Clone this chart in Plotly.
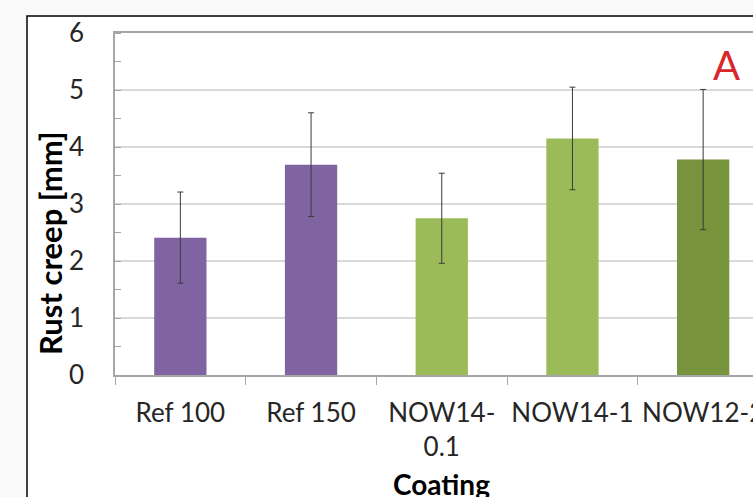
import plotly.graph_objects as go

categories = ["Ref 100", "Ref 150", "NOW14-0.1", "NOW14-1", "NOW12-2"]
tick_labels = ["Ref 100", "Ref 150", "NOW14-<br>0.1", "NOW14-1", "NOW12-2"]
rust_creep = [2.41, 3.69, 2.75, 4.15, 3.78]
error_mm = [0.80, 0.91, 0.79, 0.90, 1.23]
bar_colors = ["#8064A2", "#8064A2", "#9BBB59", "#9BBB59", "#77933C"]
y_ticks = [0, 1, 2, 3, 4, 5, 6]

W, H = 753, 497
L, R, T, B = 115, 0, 33, 122
pw, ph = W - L - R, H - T - B
cat_px = 130.7
x_end = -0.5 + pw / cat_px

FONT = "Lato"

fig = go.Figure()
fig.add_trace(go.Bar(
    x=categories,
    y=rust_creep,
    width=0.4,
    marker=dict(color=bar_colors, line=dict(width=0)),
    error_y=dict(type="data", array=error_mm, visible=True,
                 color="#3a3a3a", thickness=1, width=3),
    showlegend=False,
))

fig.update_layout(
    width=W, height=H,
    margin=dict(l=L, r=R, t=T, b=B, pad=0),
    paper_bgcolor="#f9f9f9",
    plot_bgcolor="rgba(0,0,0,0)",
    font=dict(family=FONT, size=26, color="#262626"),
    xaxis=dict(
        type="category",
        categoryorder="array", categoryarray=categories,
        range=[-0.5, x_end],
        tickmode="array",
        tickvals=categories,
        ticktext=tick_labels,
        tickangle=0,
        tickson="boundaries",
        ticks="outside", ticklen=8, tickcolor="#a6a6a6", tickwidth=1,
        showline=True, linecolor="#a6a6a6", linewidth=1.5, mirror=True,
        showgrid=False, zeroline=False,
        tickfont=dict(family=FONT, size=26, color="#262626"),
        ticklabelstandoff=14,
        ticklabeloverflow="allow",
        automargin=False,
        fixedrange=True,
    ),
    yaxis=dict(
        range=[0, 6],
        tickmode="array", tickvals=y_ticks,
        ticktext=[str(v) for v in y_ticks],
        ticks="",
        showline=True, linecolor="#a6a6a6", linewidth=1.5,
        showgrid=True, gridcolor="#d9d9d9", gridwidth=1.5,
        zeroline=False,
        minor=dict(ticks="inside", dtick=0.5, ticklen=6, tickcolor="#a6a6a6",
                   showgrid=False),
        tickfont=dict(family=FONT, size=26, color="#262626"),
        ticklabelstandoff=24,
        automargin=False,
        fixedrange=True,
    ),
    shapes=[dict(
        type="rect", xref="paper", yref="paper", layer="below",
        x0=(27 - L) / pw, x1=1.2,
        y0=-0.6, y1=(H - B - 16) / ph,
        fillcolor="white", line=dict(color="black", width=1.5),
    )],
    annotations=[
        dict(text="<b>Rust creep [mm]</b>", xref="paper", yref="paper",
             x=(50 - L) / pw, y=(H - B - 243) / ph, textangle=-90,
             showarrow=False, xanchor="center", yanchor="middle",
             font=dict(family=FONT, size=31, color="#000000")),
        dict(text="<b>Coating</b>", xref="paper", yref="paper",
             x=(441 - L) / pw, y=(H - B - 484) / ph,
             showarrow=False, xanchor="center", yanchor="middle",
             font=dict(family=FONT, size=28, color="#000000")),
        dict(text="A", xref="paper", yref="paper",
             x=(726 - L) / pw, y=(H - B - 65) / ph,
             showarrow=False, xanchor="center", yanchor="middle",
             font=dict(family=FONT, size=40, color="#d9262c")),
    ],
)

fig.write_html(
    "out.html",
    config={"displayModeBar": False},
    post_script="document.body.style.margin='0';document.body.style.overflow='hidden';",
)
